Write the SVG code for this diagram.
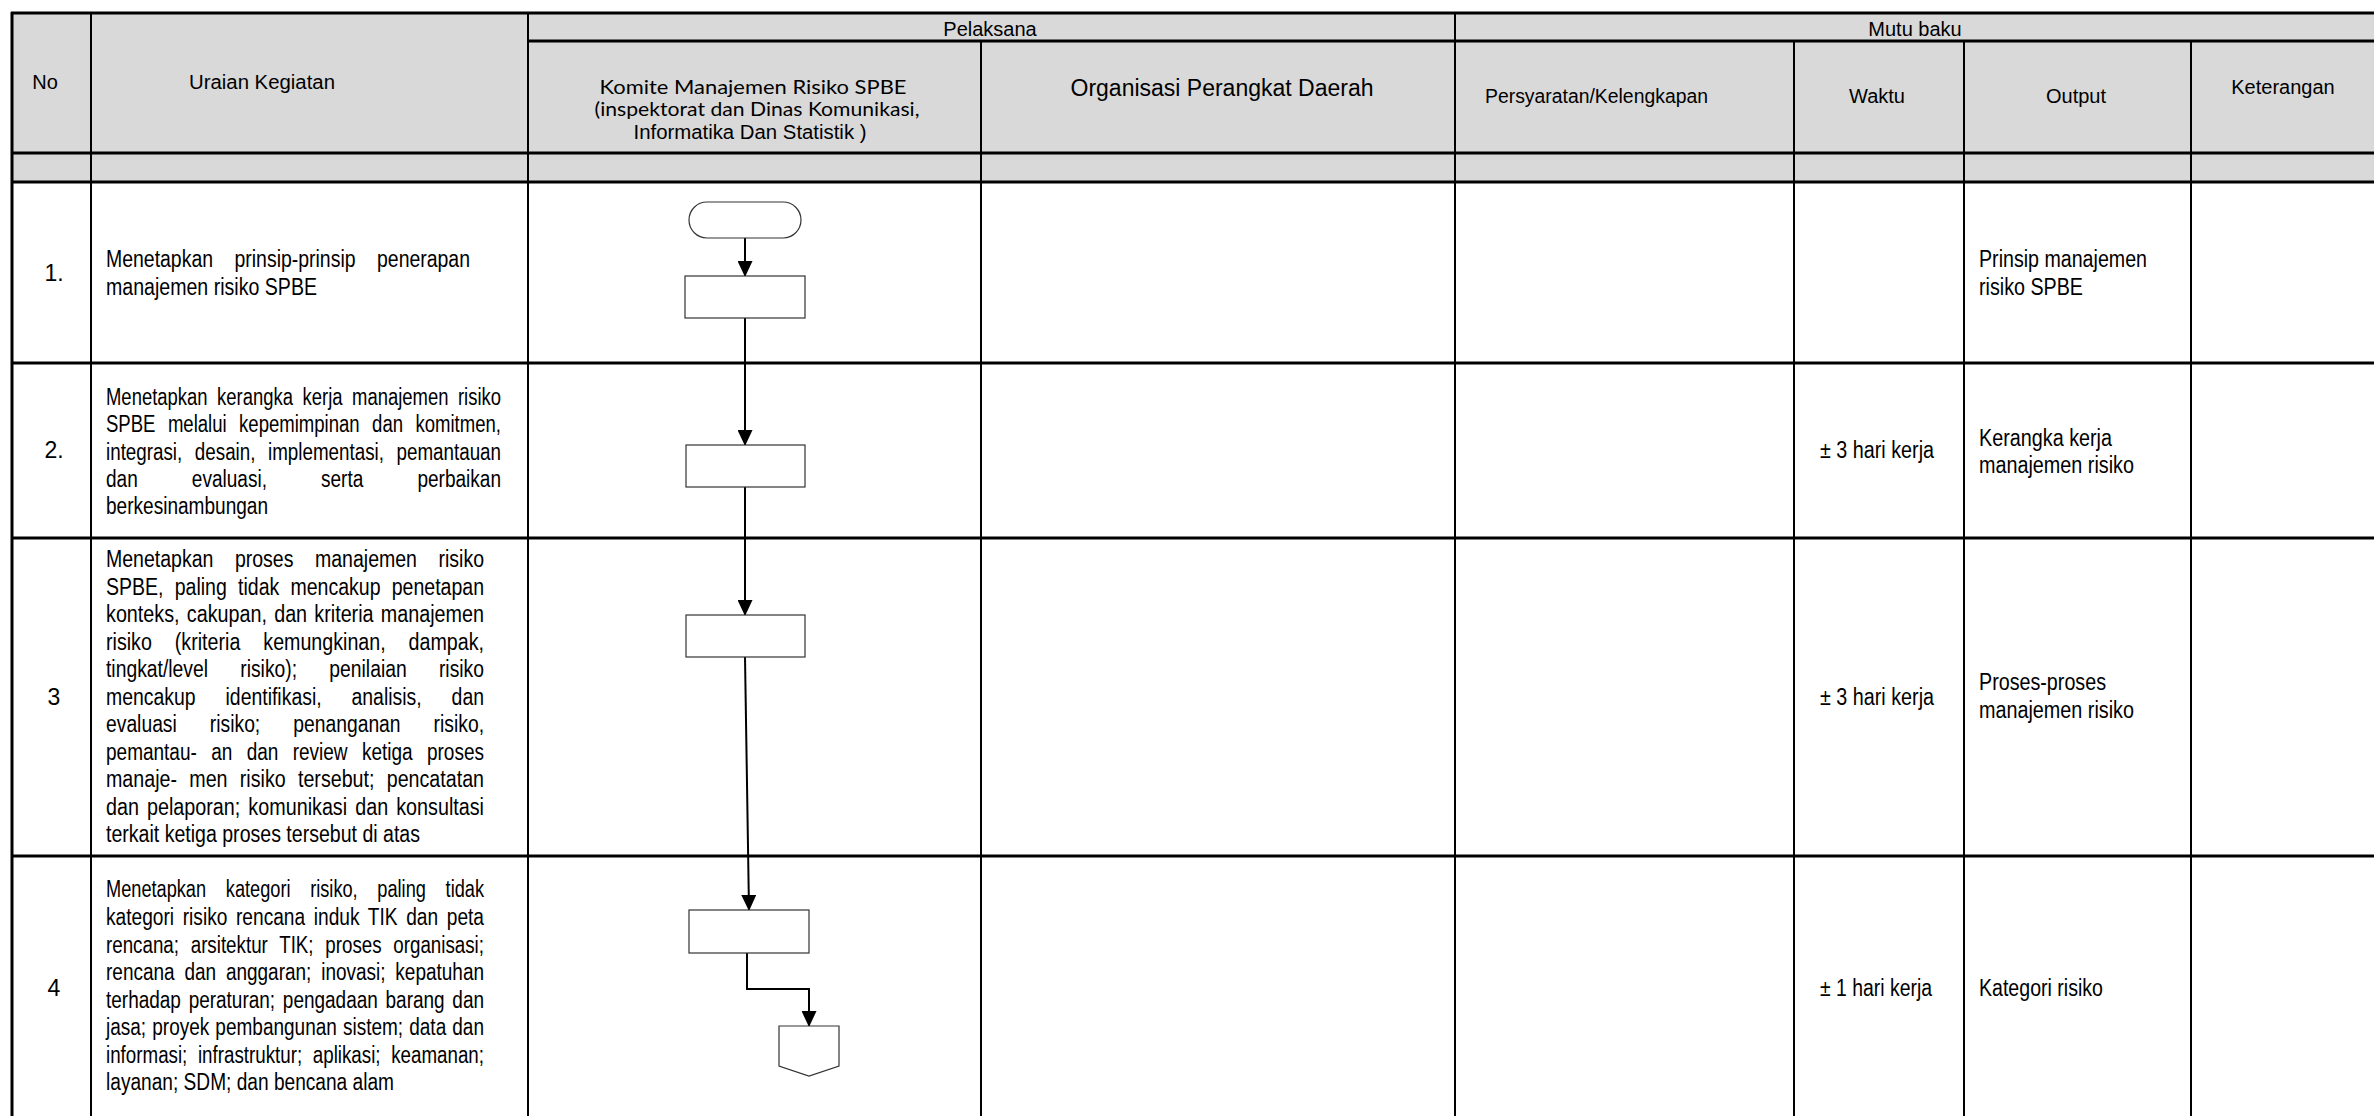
<svg xmlns="http://www.w3.org/2000/svg" width="2374" height="1116" viewBox="0 0 2374 1116">
<style>
.hd{font-family:"Liberation Sans",Arial,sans-serif;font-size:20px;fill:#000}
.hk{font-family:Lato,"Open Sans",sans-serif;font-size:19px;fill:#000}
.bt{font-family:"Liberation Sans",Arial,sans-serif;font-size:23px;fill:#000}
.hl{stroke:#000;stroke-width:3;fill:none}
.vl{stroke:#000;stroke-width:2;fill:none}
.shape{fill:#fff;stroke:#333;stroke-width:1.2}
.conn{stroke:#000;stroke-width:2;fill:none}
</style>
<defs>
<marker id="arr" viewBox="0 0 16 15" refX="15" refY="7.5" markerWidth="16" markerHeight="15" markerUnits="userSpaceOnUse" orient="auto">
<path d="M0,0 L16,7.5 L0,15 z" fill="#000"/>
</marker>
</defs>
<rect x="0" y="0" width="2374" height="1116" fill="#fff"/>
<g id="table">
<rect x="12" y="13" width="2362" height="169" fill="#d9d9d9"/>
<line class="vl" x1="91" y1="13" x2="91" y2="1116"/>
<line class="vl" x1="528" y1="13" x2="528" y2="1116"/>
<line class="vl" x1="981" y1="41" x2="981" y2="1116"/>
<line class="vl" x1="1455" y1="13" x2="1455" y2="1116"/>
<line class="vl" x1="1794" y1="41" x2="1794" y2="1116"/>
<line class="vl" x1="1964" y1="41" x2="1964" y2="1116"/>
<line class="vl" x1="2191" y1="41" x2="2191" y2="1116"/>
<line class="hl" x1="11" y1="13" x2="2374" y2="13"/>
<line class="hl" x1="528" y1="41" x2="2374" y2="41"/>
<line class="hl" x1="11" y1="153" x2="2374" y2="153"/>
<line class="hl" x1="11" y1="182" x2="2374" y2="182"/>
<line class="hl" x1="11" y1="363" x2="2374" y2="363"/>
<line class="hl" x1="11" y1="538" x2="2374" y2="538"/>
<line class="hl" x1="11" y1="856" x2="2374" y2="856"/>
<line class="hl" x1="12" y1="12" x2="12" y2="1116"/>
</g>
<g id="headers">
<text class="hd" x="45" y="89" text-anchor="middle">No</text>
<text class="hd" x="189" y="89" textLength="146" lengthAdjust="spacingAndGlyphs">Uraian Kegiatan</text>
<text class="hd" x="990" y="36" text-anchor="middle">Pelaksana</text>
<text class="hd" x="1915" y="36" text-anchor="middle">Mutu baku</text>
<text class="hk" x="753" y="94" text-anchor="middle" textLength="307" lengthAdjust="spacingAndGlyphs">Komite Manajemen Risiko SPBE</text>
<text class="hk" x="757" y="116" text-anchor="middle" textLength="325" lengthAdjust="spacingAndGlyphs">(inspektorat dan Dinas Komunikasi,</text>
<text class="hd" x="750" y="139" text-anchor="middle" textLength="233" lengthAdjust="spacingAndGlyphs">Informatika Dan Statistik )</text>
<text class="hd" x="1222" y="96" text-anchor="middle" style="font-size:23px">Organisasi Perangkat Daerah</text>
<text class="hd" x="1485" y="103" textLength="223" lengthAdjust="spacingAndGlyphs">Persyaratan/Kelengkapan</text>
<text class="hd" x="1877" y="103" text-anchor="middle">Waktu</text>
<text class="hd" x="2076" y="103" text-anchor="middle">Output</text>
<text class="hd" x="2283" y="94" text-anchor="middle">Keterangan</text>
</g>
<g id="row1">
<text class="bt" x="54" y="281" text-anchor="middle">1.</text>
<text class="bt" x="106" y="267" textLength="364" lengthAdjust="spacingAndGlyphs" word-spacing="19">Menetapkan prinsip-prinsip penerapan</text>
<text class="bt" x="106" y="295" textLength="211" lengthAdjust="spacingAndGlyphs">manajemen risiko SPBE</text>
<text class="bt" x="1979" y="267" textLength="168" lengthAdjust="spacingAndGlyphs">Prinsip manajemen</text>
<text class="bt" x="1979" y="295" textLength="104" lengthAdjust="spacingAndGlyphs">risiko SPBE</text>
</g>
<g id="row2">
<text class="bt" x="54" y="458" text-anchor="middle">2.</text>
<text class="bt" x="106" y="405" textLength="395" lengthAdjust="spacingAndGlyphs" word-spacing="5.5">Menetapkan kerangka kerja manajemen risiko</text>
<text class="bt" x="106" y="432" textLength="395" lengthAdjust="spacingAndGlyphs" word-spacing="9">SPBE melalui kepemimpinan dan komitmen,</text>
<text class="bt" x="106" y="460" textLength="395" lengthAdjust="spacingAndGlyphs" word-spacing="9">integrasi, desain, implementasi, pemantauan</text>
<text class="bt" x="106" y="487" textLength="395" lengthAdjust="spacingAndGlyphs" word-spacing="59">dan evaluasi, serta perbaikan</text>
<text class="bt" x="106" y="514" textLength="162" lengthAdjust="spacingAndGlyphs">berkesinambungan</text>
<text class="bt" x="1820" y="458" textLength="114" lengthAdjust="spacingAndGlyphs">± 3 hari kerja</text>
<text class="bt" x="1979" y="446" textLength="133" lengthAdjust="spacingAndGlyphs">Kerangka kerja</text>
<text class="bt" x="1979" y="473" textLength="155" lengthAdjust="spacingAndGlyphs">manajemen risiko</text>
</g>
<g id="row3">
<text class="bt" x="54" y="705" text-anchor="middle">3</text>
<text class="bt" x="106" y="567" textLength="378" lengthAdjust="spacingAndGlyphs" word-spacing="19">Menetapkan proses manajemen risiko</text>
<text class="bt" x="106" y="594.5" textLength="378" lengthAdjust="spacingAndGlyphs" word-spacing="6.8">SPBE, paling tidak mencakup penetapan</text>
<text class="bt" x="106" y="622" textLength="378" lengthAdjust="spacingAndGlyphs" word-spacing="2">konteks, cakupan, dan kriteria manajemen</text>
<text class="bt" x="106" y="649.5" textLength="378" lengthAdjust="spacingAndGlyphs" word-spacing="20.5">risiko (kriteria kemungkinan, dampak,</text>
<text class="bt" x="106" y="677" textLength="378" lengthAdjust="spacingAndGlyphs" word-spacing="32">tingkat/level risiko); penilaian risiko</text>
<text class="bt" x="106" y="704.5" textLength="378" lengthAdjust="spacingAndGlyphs" word-spacing="29">mencakup identifikasi, analisis, dan</text>
<text class="bt" x="106" y="732" textLength="378" lengthAdjust="spacingAndGlyphs" word-spacing="33">evaluasi risiko; penanganan risiko,</text>
<text class="bt" x="106" y="759.5" textLength="378" lengthAdjust="spacingAndGlyphs" word-spacing="11">pemantau- an dan review ketiga proses</text>
<text class="bt" x="106" y="787" textLength="378" lengthAdjust="spacingAndGlyphs" word-spacing="8">manaje- men risiko tersebut; pencatatan</text>
<text class="bt" x="106" y="814.5" textLength="378" lengthAdjust="spacingAndGlyphs" word-spacing="3">dan pelaporan; komunikasi dan konsultasi</text>
<text class="bt" x="106" y="842" textLength="314" lengthAdjust="spacingAndGlyphs">terkait ketiga proses tersebut di atas</text>
<text class="bt" x="1820" y="705" textLength="114" lengthAdjust="spacingAndGlyphs">± 3 hari kerja</text>
<text class="bt" x="1979" y="690" textLength="127" lengthAdjust="spacingAndGlyphs">Proses-proses</text>
<text class="bt" x="1979" y="718" textLength="155" lengthAdjust="spacingAndGlyphs">manajemen risiko</text>
</g>
<g id="row4">
<text class="bt" x="54" y="996" text-anchor="middle">4</text>
<text class="bt" x="106" y="897" textLength="378" lengthAdjust="spacingAndGlyphs" word-spacing="18.5">Menetapkan kategori risiko, paling tidak</text>
<text class="bt" x="106" y="925" textLength="378" lengthAdjust="spacingAndGlyphs" word-spacing="4">kategori risiko rencana induk TIK dan peta</text>
<text class="bt" x="106" y="952.5" textLength="378" lengthAdjust="spacingAndGlyphs" word-spacing="8">rencana; arsitektur TIK; proses organisasi;</text>
<text class="bt" x="106" y="980" textLength="378" lengthAdjust="spacingAndGlyphs" word-spacing="5.5">rencana dan anggaran; inovasi; kepatuhan</text>
<text class="bt" x="106" y="1007.5" textLength="378" lengthAdjust="spacingAndGlyphs" word-spacing="3">terhadap peraturan; pengadaan barang dan</text>
<text class="bt" x="106" y="1035" textLength="378" lengthAdjust="spacingAndGlyphs" word-spacing="1">jasa; proyek pembangunan sistem; data dan</text>
<text class="bt" x="106" y="1062.5" textLength="378" lengthAdjust="spacingAndGlyphs" word-spacing="6.6">informasi; infrastruktur; aplikasi; keamanan;</text>
<text class="bt" x="106" y="1090" textLength="288" lengthAdjust="spacingAndGlyphs">layanan; SDM; dan bencana alam</text>
<text class="bt" x="1820" y="996" textLength="112" lengthAdjust="spacingAndGlyphs">± 1 hari kerja</text>
<text class="bt" x="1979" y="996" textLength="124" lengthAdjust="spacingAndGlyphs">Kategori risiko</text>
</g>
<g id="connectors">
<line class="conn" x1="745" y1="238" x2="745" y2="276" marker-end="url(#arr)"/>
<line class="conn" x1="745" y1="318" x2="745" y2="445" marker-end="url(#arr)"/>
<line class="conn" x1="745" y1="487" x2="745" y2="615" marker-end="url(#arr)"/>
<line class="conn" x1="745" y1="657" x2="749" y2="910" marker-end="url(#arr)"/>
<polyline class="conn" points="747,953 747,989 809,989 809,1026" marker-end="url(#arr)"/>
</g>
<g id="start"><rect class="shape" x="689" y="202" width="112" height="36" rx="18"/></g>
<g id="step1"><rect class="shape" x="685" y="276" width="120" height="42"/></g>
<g id="step2"><rect class="shape" x="686" y="445" width="119" height="42"/></g>
<g id="step3"><rect class="shape" x="686" y="615" width="119" height="42"/></g>
<g id="step4"><rect class="shape" x="689" y="910" width="120" height="43"/></g>
<g id="offpage"><polygon class="shape" points="779,1026 839,1026 839,1066 809,1076 779,1066"/></g>
</svg>
